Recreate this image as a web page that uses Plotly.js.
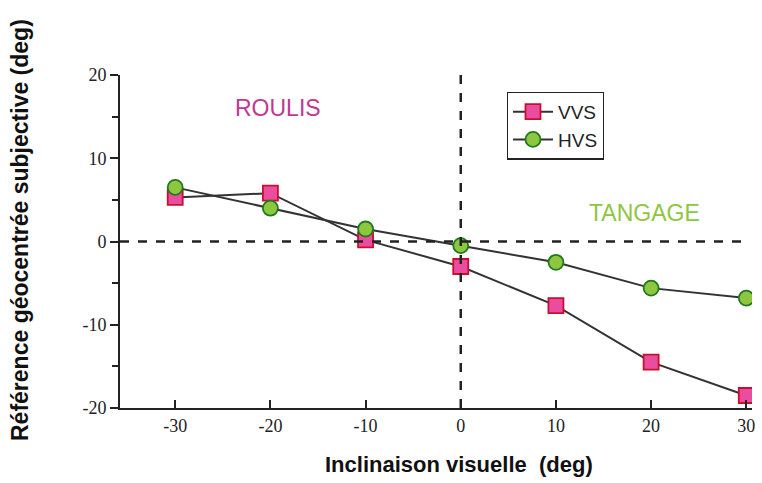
<!DOCTYPE html>
<html><head><meta charset="utf-8">
<script src="https://cdn.plot.ly/plotly-3.0.1.min.js"></script>
<style>body{margin:0;background:#fff}#chart{width:762px;height:483px}</style>
</head><body><div id="chart"></div>
<script>
const inclinaison = [-30, -20, -10, 0, 10, 20, 30];
const vvs = [5.3, 5.8, 0.2, -3.0, -7.7, -14.5, -18.5];
const hvs = [6.5, 4.0, 1.5, -0.5, -2.5, -5.6, -6.8];
const seriesNames = ['VVS', 'HVS'];
const xTicks = [-30, -20, -10, 0, 10, 20, 30];
const yTicks = [-20, -10, 0, 10, 20];

const lineCol = '#333333';
const traces = [
  {x: inclinaison, y: vvs, name: seriesNames[0], type: 'scatter', mode: 'lines+markers',
   line: {color: lineCol, width: 2},
   marker: {symbol: 'square', size: 15, color: '#ea4c9f', line: {color: '#c8102e', width: 1.8}}},
  {x: inclinaison, y: hvs, name: seriesNames[1], type: 'scatter', mode: 'lines+markers',
   line: {color: lineCol, width: 2},
   marker: {symbol: 'circle', size: 15, color: '#8dc63f', line: {color: '#1f7a1f', width: 1.8}}}
];

const layout = {
  width: 762, height: 483,
  margin: {l: 120, r: 10, t: 75, b: 75},
  paper_bgcolor: '#fff', plot_bgcolor: '#fff',
  showlegend: true,
  legend: {x: 0.612, y: 0.95, xanchor: 'left', yanchor: 'top',
    bordercolor: '#222', borderwidth: 1.2, bgcolor: '#fff',
    font: {family: 'Liberation Sans, Arial, sans-serif', size: 19, color: '#222'},
    itemwidth: 40, tracegroupgap: 0},
  xaxis: {range: [-35.8, 30.6], tickvals: xTicks, ticktext: xTicks.map(String),
    showgrid: false, zeroline: false, showline: true, linecolor: '#222', linewidth: 2,
    ticks: 'inside', ticklen: 8, tickwidth: 2, tickcolor: '#222',
    tickfont: {family: 'Liberation Serif, Times New Roman, serif', size: 18, color: '#222'}},
  yaxis: {range: [-20, 20], tickvals: yTicks, ticktext: yTicks.map(String),
    showgrid: false, zeroline: false, showline: true, linecolor: '#222', linewidth: 2,
    ticks: 'outside', ticklen: 8, tickwidth: 2, tickcolor: '#222',
    minor: {dtick: 5, ticks: 'outside', ticklen: 6, tickwidth: 2, tickcolor: '#222'},
    tickfont: {family: 'Liberation Serif, Times New Roman, serif', size: 18, color: '#222'}},
  shapes: [
    {type: 'line', xref: 'paper', yref: 'y', x0: 0, x1: 0.985, y0: 0, y1: 0,
     line: {color: '#222', width: 2.5, dash: 'dash'}},
    {type: 'line', xref: 'x', yref: 'paper', x0: 0, x1: 0, y0: 0, y1: 1.015,
     line: {color: '#222', width: 2.5, dash: 'dash'}}
  ],
  annotations: [
    {text: 'ROULIS', xref: 'paper', yref: 'paper', x: 0.25, y: 0.902, xanchor: 'center', yanchor: 'middle',
     showarrow: false,
     font: {family: 'Liberation Sans, Arial, sans-serif', size: 23, color: '#c2388f'}},
    {text: 'TANGAGE', xref: 'paper', yref: 'paper', x: 0.83, y: 0.587, xanchor: 'center', yanchor: 'middle',
     showarrow: false,
     font: {family: 'Liberation Sans, Arial, sans-serif', size: 23, color: '#8dc63f'}},
    {text: '<b>Inclinaison visuelle  (deg)</b>', xref: 'paper', yref: 'paper', x: 0.536, y: -0.17,
     xanchor: 'center', yanchor: 'middle', showarrow: false,
     font: {family: 'Liberation Sans, Arial, sans-serif', size: 22, color: '#111'}},
    {text: '<b>Référence géocentrée subjective (deg)</b>', xref: 'paper', yref: 'paper',
     x: -0.158, y: 0.535, xanchor: 'center', yanchor: 'middle', textangle: -90, showarrow: false,
     font: {family: 'Liberation Sans, Arial, sans-serif', size: 23, color: '#111'}}
  ]
};
Plotly.newPlot('chart', traces, layout, {displayModeBar: false, staticPlot: true});
</script></body></html>
